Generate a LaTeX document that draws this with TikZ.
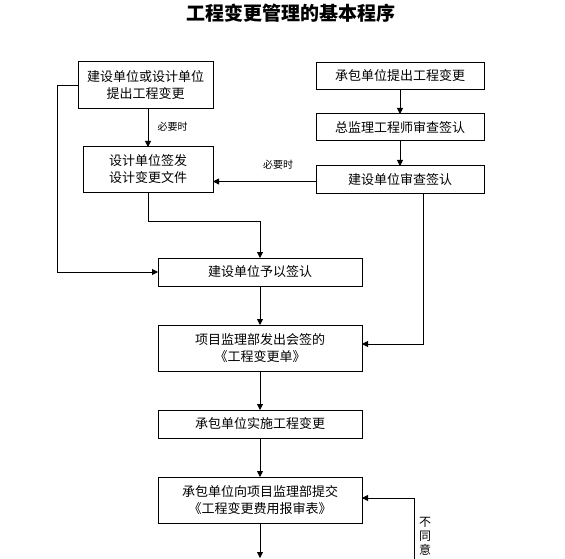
\documentclass[tikz,border=0pt]{standalone}
\usepackage{fontspec}
\newfontfamily\cjk{Noto Sans CJK SC}
\usetikzlibrary{arrows.meta}
\tikzset{
  box/.style={draw, line width=1pt, inner sep=0pt, outer sep=0pt, align=center,
    font=\cjk\fontsize{13}{17}\selectfont},
  arr/.style={line width=0.8pt, -{Triangle[length=6pt,width=6pt]}},
  lbl/.style={font=\cjk\fontsize{10}{11}\selectfont, inner sep=0pt}
}
\begin{document}
\begin{tikzpicture}[x=1pt,y=-1pt]
\useasboundingbox (0,0) rectangle (565,559);
\node[font=\cjk\bfseries\fontsize{19}{21}\selectfont] (T) at (291,13) {工程变更管理的基本程序};
\node[box, minimum width=135pt, minimum height=47pt] (A) at (145.5,85.5) {建设单位或设计单位\\提出工程变更};
\node[box, minimum width=168pt, minimum height=27pt] (B) at (400,76) {承包单位提出工程变更};
\node[box, minimum width=168pt, minimum height=27pt] (C) at (400,127.5) {总监理工程师审查签认};
\node[box, minimum width=130pt, minimum height=45pt] (D) at (148,169.5) {设计单位签发\\设计变更文件};
\node[box, minimum width=168pt, minimum height=27pt] (E) at (400,179.5) {建设单位审查签认};
\node[box, minimum width=204pt, minimum height=28pt] (F) at (260,272) {建设单位予以签认};
\node[box, minimum width=204pt, minimum height=46pt] (G) at (260,348) {项目监理部发出会签的\\《工程变更单》};
\node[box, minimum width=204pt, minimum height=28pt] (H) at (260,424) {承包单位实施工程变更};
\node[box, minimum width=204pt, minimum height=46pt] (I) at (260,500) {承包单位向项目监理部提交\\《工程变更费用报审表》};
\node[lbl] (L1) at (172.5,127) {必要时};
\node[lbl] (L2) at (278,165) {必要时};
\node[font=\cjk\fontsize{12}{14}\selectfont, inner sep=0pt, align=center, anchor=north] (L3) at (425,517) {不\\同\\意};
\coordinate (r) at (414,562);
\coordinate (b) at (260,558);
\draw[arr] (A.south -| D.north) -- (D.north);
\draw[arr] (B.south) -- (C.north);
\draw[arr] (C.south) -- (E.north);
\draw[arr] ([yshift=-2pt]E.west) -- ([yshift=-2pt]E.west -| D.east);
\draw[arr] (A.west) -- ++(-21,0) |- (F.west);
\draw[arr] (D.south) -- ++(0,29) -| (F.north);
\draw[arr] ([xshift=23pt]E.south) |- ([yshift=4pt]G.east);
\draw[arr] (F.south) -- (G.north);
\draw[arr] (G.south) -- (H.north);
\draw[arr] (H.south) -- (I.north);
\draw[arr] (r) |- ([yshift=2pt]I.east);
\draw[arr] (I.south) -- (b);
\end{tikzpicture}
\end{document}
